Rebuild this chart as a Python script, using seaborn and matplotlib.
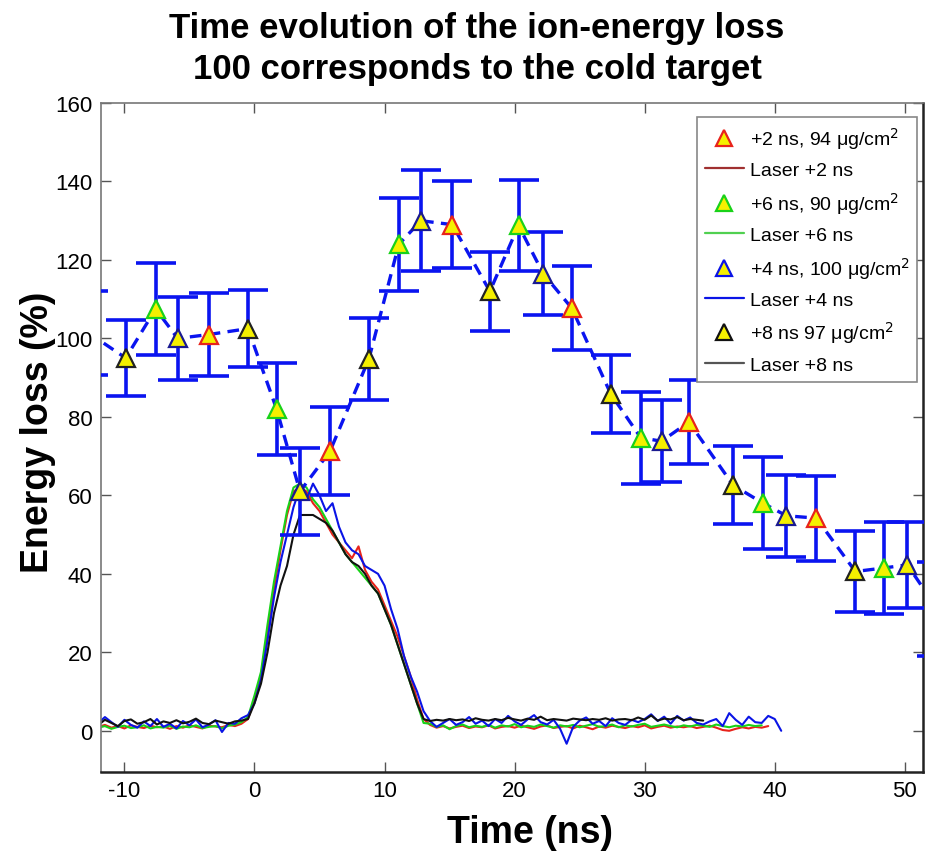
"""Time evolution of the ion-energy loss, with laser pulse traces."""

import matplotlib

matplotlib.use("Agg")
import matplotlib.pyplot as plt
import numpy as np
import pandas as pd
import seaborn as sns
from matplotlib.lines import Line2D

# ion energy loss measurements (time in ns, loss in %, error bar half-width)
t_2ns = [-12.8, -3.5, 5.8, 15.2, 24.4, 33.4, 43.2, 52.5]
loss_2ns = [101.5, 101.0, 71.2, 129.0, 107.7, 78.7, 54.2, 31.0]
err_2ns = [10.7, 10.5, 11.2, 11.0, 10.7, 10.7, 10.8, 12.0]

t_6ns = [-7.6, 1.7, 11.1, 20.3, 29.7, 39.1, 48.4]
loss_6ns = [107.5, 82.0, 124.0, 128.8, 74.7, 58.0, 41.5]
err_6ns = [11.7, 11.7, 11.9, 11.7, 11.7, 11.7, 11.8]

t_4ns = [-5.9, 3.5, 12.8, 22.2, 31.3, 40.9, 50.2]
loss_4ns = [100.0, 61.0, 130.0, 116.5, 73.8, 54.8, 42.3]
err_4ns = [10.5, 11.0, 12.8, 10.5, 10.5, 10.5, 11.0]

t_8ns = [-9.9, -0.5, 8.8, 18.1, 27.4, 36.8, 46.2]
loss_8ns = [95.0, 102.5, 94.8, 112.0, 85.8, 62.6, 40.6]
err_8ns = [9.8, 9.8, 10.5, 10.0, 10.0, 10.0, 10.4]

# laser pulse traces, sampled every 0.5 ns starting at -12 ns
laser_t0 = -12.0
laser_dt = 0.5

laser_2ns = [
    1.0, 1.5, 0.8, 1.2, 0.6, 1.4, 1.0, 0.7, 1.3, 0.9, 1.1, 0.5, 1.2, 0.8, 1.4, 1.0,
    0.6, 1.3, 1.1, 0.9, 1.5, 1.2, 1.8, 3.0,
    8, 14, 25, 36, 46, 55, 61, 62, 61, 58, 56, 53, 50, 48, 46, 44, 47, 41, 38, 36,
    32, 28, 24, 19, 14, 8, 3,
    1.5, 0.8, 1.2, 0.6, 1.0, 1.3, 0.7, 1.1, 0.9, 1.4, 0.6, 1.0, 1.2, 0.8, 1.3, 0.9,
    0.5, 1.1, 1.4, 0.7, 1.0, 1.2, 0.6, 1.3, 0.9, 0.4, 1.1, 0.8, 1.3, 1.0, 0.7, 1.2,
    0.9, 1.4, 0.6, 1.0, 1.3, 0.8, 1.1, 0.9, 1.2, 0.7, 1.0, 1.3, 0.8, 0.2, 0.0, 0.5,
    0.9, 0.6, 1.0, 0.8, 1.2,
]
laser_6ns = [
    0.8, 1.2, 0.5, 1.0, 1.3, 0.7, 0.9, 1.4, 0.6, 1.0, 0.8, 1.3, 0.5, 1.1, 0.9, 1.4,
    0.7, 1.0, 1.2, 0.6, 1.3, 1.6, 2.2, 3.5,
    9, 15, 27, 38, 47, 56, 62, 63, 62, 59, 57, 54, 51, 48, 45, 43, 41, 39, 37, 35,
    31, 27, 22, 17, 12, 7, 2,
    1.8, 1.0, 1.4, 0.4, 1.2, 1.6, 0.9, 1.3, 1.0, 1.5, 0.8, 1.4, 1.1, 1.7, 0.9, 1.3,
    1.0, 1.6, 1.2, 0.8, 1.4, 1.1, 1.5, 0.9, 1.3, 1.7, 1.0, 1.2, 1.6, 0.9, 1.4, 1.1,
    1.5, 1.8, 1.0, 1.3, 1.6, 1.2, 0.9, 1.4, 1.1, 1.5, 1.3, 1.0, 1.6, 1.2, 0.9, 1.3,
    1.1, 1.5, 1.2, 1.4,
]
laser_4ns = [
    2.0, 3.5, 2.2, 1.0, 2.8, 1.5, 0.8, 2.4, 1.2, 3.0, 1.0, 1.8, 0.6, 2.5, 1.4, 2.9,
    0.9, 1.6, 2.7, -0.3, 2.0, 1.8, 3.2, 4.0,
    7, 13, 23, 34, 43, 50, 57, 62, 59, 63, 60, 56, 58, 52, 48, 46, 45, 42, 41, 40,
    37, 31, 26, 19, 14, 10, 5,
    2.5, 1.0, 2.0, 3.0, 1.5, 2.2, 3.5, 1.8, 2.6, 1.2, 3.0, 2.0, 3.8, 2.4, 1.5, 2.9,
    4.0, 2.2, 1.6, 2.8, 0.5, -3.3, 1.0, 2.6, 3.4, 1.8, 2.5, 1.2, 3.2, 2.0, 1.5, 2.8,
    2.2, 3.0, 4.2, 2.5, 3.6, 1.8, 3.8, 2.6, 3.4, 2.0, 1.6, 2.4, 3.0, 1.2, 4.5, 2.8,
    1.5, 3.6, 2.2, 2.0, 3.8, 3.0, 0.0,
]
laser_8ns = [
    1.5, 2.8, 2.0, 1.2, 2.5, 2.9, 1.8, 2.2, 3.0, 1.6, 2.4, 2.0, 2.7, 1.9, 2.3, 3.1,
    2.0, 1.7, 2.6, 2.2, 1.8, 2.4, 2.6, 3.0,
    7, 12, 20, 30, 37, 42, 50, 55, 55, 55, 54, 53, 51, 48, 45, 43, 42, 40, 37, 35,
    31, 27, 22, 17, 12, 7, 3,
    2.5, 2.8, 2.6, 3.0, 2.7, 2.9, 2.5, 3.2, 2.8, 2.6, 3.0, 2.7, 3.3, 2.9, 2.6, 3.1,
    2.8, 3.6, 2.7, 3.0, 2.8, 2.6, 3.1, 2.9, 2.7, 3.0, 2.8, 3.2, 2.6, 2.9, 3.0, 2.7,
    3.4, 2.8, 3.9, 2.6, 3.1, 2.9, 3.5, 2.7, 3.0, 2.8, 2.6,
]

RED = "#e8231b"
GREEN = "#19d219"
BLUE = "#0a14e6"
BLACK = "#111111"
BAR_BLUE = "#0a14f0"
YELLOW = "#f5f000"

sns.set_theme(style="ticks")
plt.rcParams["font.family"] = ["Liberation Sans", "DejaVu Sans"]
plt.rcParams["text.color"] = "black"
plt.rcParams["axes.unicode_minus"] = False

fig = plt.figure(figsize=(9.33, 8.53), dpi=100)
ax = fig.add_axes([101 / 933, 80 / 853, 822 / 933, 669 / 853])

# laser traces
frames = []
for name, vals in [("2", laser_2ns), ("6", laser_6ns), ("4", laser_4ns), ("8", laser_8ns)]:
    times = laser_t0 + laser_dt * np.arange(len(vals))
    frames.append(pd.DataFrame({"time": times, "value": vals, "trace": name}))
laser_df = pd.concat(frames, ignore_index=True)
sns.lineplot(
    data=laser_df, x="time", y="value", hue="trace",
    palette={"2": RED, "6": GREEN, "4": BLUE, "8": BLACK},
    estimator=None, sort=False, linewidth=1.5, legend=False, ax=ax, zorder=2,
)

# error bars + dashed connecting line through all points in time order
all_t = np.concatenate([t_2ns, t_6ns, t_4ns, t_8ns])
all_y = np.concatenate([loss_2ns, loss_6ns, loss_4ns, loss_8ns])
all_e = np.concatenate([err_2ns, err_6ns, err_4ns, err_8ns])
order = np.argsort(all_t)
ax.errorbar(all_t[order], all_y[order], yerr=all_e[order], fmt="none",
            ecolor=BAR_BLUE, elinewidth=2.6, capsize=14.5, capthick=2.6, zorder=3)
ax.plot(all_t[order], all_y[order], color=BAR_BLUE, lw=2.4, ls=(0, (3.5, 2.2)), zorder=4)

series = [
    (t_2ns, loss_2ns, RED),
    (t_6ns, loss_6ns, GREEN),
    (t_4ns, loss_4ns, "#1a1a90"),
    (t_8ns, loss_8ns, "#222222"),
]
for tt, yy, ec in series:
    ax.plot(tt, yy, ls="none", marker="^", ms=13, mfc=YELLOW, mec=ec, mew=1.6, zorder=5)

ax.set_xlim(-11.8, 51.4)
ax.set_ylim(-10.5, 160)
ax.set_xticks([-10, 0, 10, 20, 30, 40, 50])
ax.set_yticks(range(0, 161, 20))
ax.tick_params(direction="in", top=True, right=True, length=7, width=1,
               labelsize=16, colors="#555555", labelcolor="black", pad=6)
ax.set_xlabel("")
ax.set_ylabel("")
for side in ["left", "top"]:
    ax.spines[side].set_color("#777777")
    ax.spines[side].set_linewidth(1.2)
for side in ["right", "bottom"]:
    ax.spines[side].set_color("#222222")
    ax.spines[side].set_linewidth(1.8)

handles = [
    Line2D([], [], ls="none", marker="^", ms=12, mfc=YELLOW, mec=RED, mew=1.6),
    Line2D([], [], color="#a03030", lw=1.6),
    Line2D([], [], ls="none", marker="^", ms=12, mfc=YELLOW, mec=GREEN, mew=1.6),
    Line2D([], [], color="#50d050", lw=1.6),
    Line2D([], [], ls="none", marker="^", ms=12, mfc=YELLOW, mec=BLUE, mew=1.6),
    Line2D([], [], color=BLUE, lw=1.6),
    Line2D([], [], ls="none", marker="^", ms=12, mfc=YELLOW, mec=BLACK, mew=1.6),
    Line2D([], [], color="#555555", lw=1.6),
]
labels = [
    r"+2 ns, 94 μg/cm$^2$",
    "Laser +2 ns",
    r"+6 ns, 90 μg/cm$^2$",
    "Laser +6 ns",
    r"+4 ns, 100 μg/cm$^2$",
    "Laser +4 ns",
    r"+8 ns 97 μg/cm$^2$",
    "Laser +8 ns",
]
leg = ax.legend(handles, labels, loc="upper right", bbox_to_anchor=(0.993, 0.979),
                borderaxespad=0, fontsize=14, frameon=True, fancybox=False,
                edgecolor="#888888", framealpha=1, labelspacing=0.55,
                handlelength=2.0, handletextpad=0.3, borderpad=0.4)
leg.get_frame().set_linewidth(1.2)

fig.text(477 / 933, 1 - 12 / 853,
         "Time evolution of the ion-energy loss\n100 corresponds to the cold target",
         ha="center", va="top", fontsize=25, fontweight="bold", linespacing=1.32)
fig.text(38 / 933, 1 - 432 / 853, "Energy loss (%)", rotation=90,
         ha="center", va="center", fontsize=27, fontweight="bold")
fig.text(530 / 933, 1 - 833 / 853, "Time (ns)", ha="center", va="center",
         fontsize=27, fontweight="bold")

fig.savefig("out.png", dpi=100, facecolor="white")
